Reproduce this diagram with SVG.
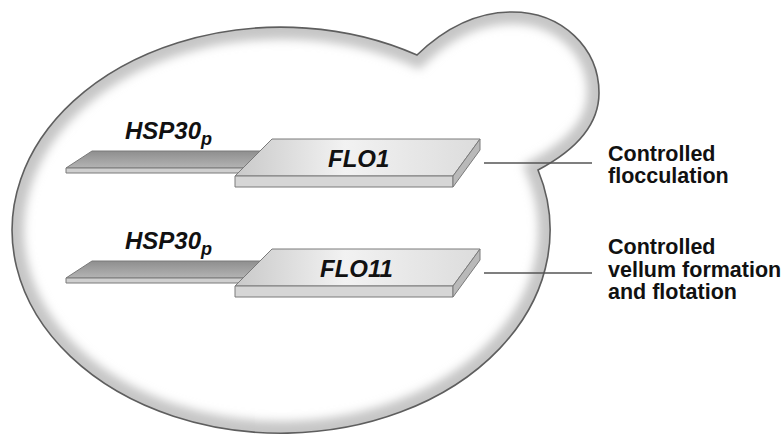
<svg xmlns="http://www.w3.org/2000/svg" width="783" height="436" viewBox="0 0 783 436">
  <style>
    .gene { font-family: "Liberation Sans", Arial, sans-serif; font-weight: bold; font-style: italic; font-size: 24px; fill: #111; }
    .sub { font-size: 18px; }
    .label { font-family: "Liberation Sans", Arial, sans-serif; font-weight: bold; font-size: 21.5px; fill: #111; }
    .edge { stroke: #7a7a7a; stroke-width: 1; stroke-linejoin: round; }
    .lead { stroke: #555; stroke-width: 1.5; fill: none; }
  </style>
  <defs>
    <!-- outline of the budding cell: bud on the upper right merged into the mother cell -->
    <path id="cellShape" d="M417,55 C445,28 478,12 512,12 C562,12 599,48 599,93 C599,128 572,152 538,170 A269,203 0 1 1 417,55 Z"/>
    <clipPath id="cellClip"><use href="#cellShape"/></clipPath>
    <filter id="soft" x="-10%" y="-10%" width="120%" height="120%">
      <feGaussianBlur stdDeviation="5"/>
    </filter>
    <linearGradient id="promTop" x1="0" y1="0" x2="0" y2="1">
      <stop offset="0" stop-color="#8e8e8e"/>
      <stop offset="1" stop-color="#b4b4b4"/>
    </linearGradient>
    <linearGradient id="boxTop" x1="0" y1="0" x2="1" y2="0">
      <stop offset="0" stop-color="#c9c9c9"/>
      <stop offset="0.45" stop-color="#f2f2f2"/>
      <stop offset="1" stop-color="#dcdcdc"/>
    </linearGradient>
  </defs>

  <rect width="783" height="436" fill="#ffffff"/>

  <!-- cell body with soft inner shading along its rim -->
  <g id="cell">
    <use href="#cellShape" fill="#ffffff"/>
    <g clip-path="url(#cellClip)">
      <use href="#cellShape" fill="none" stroke="#c6c6c6" stroke-width="24" filter="url(#soft)"/>
    </g>
    <use href="#cellShape" fill="none" stroke="#5e5e5e" stroke-width="1.6"/>
  </g>

  <!-- connectors from gene cassettes to phenotype labels -->
  <g id="connectors">
    <line class="lead" x1="484" y1="163" x2="592" y2="163"/>
    <line class="lead" x1="484" y1="273" x2="592" y2="273"/>
  </g>

  <!-- HSP30 promoter + FLO1 cassette -->
  <g id="cassette-flo1">
    <polygon class="edge" points="92,151 272,151 262,168 66,168" fill="url(#promTop)"/>
    <polygon class="edge" points="66,168 262,168 262,173 66,173" fill="#cfcfcf"/>
    <polygon class="edge" points="272,139 480,139 453,176 235,176" fill="url(#boxTop)"/>
    <polygon class="edge" points="235,176 453,176 453,187 235,187" fill="#d6d6d6"/>
    <polygon class="edge" points="453,176 480,139 480,150 453,187" fill="#b9b9b9"/>
    <text class="gene" x="125" y="139">HSP30<tspan class="sub" dy="6">p</tspan></text>
    <text class="gene" x="328" y="167">FLO1</text>
  </g>

  <!-- HSP30 promoter + FLO11 cassette -->
  <g id="cassette-flo11">
    <polygon class="edge" points="92,261 272,261 262,278 66,278" fill="url(#promTop)"/>
    <polygon class="edge" points="66,278 262,278 262,283 66,283" fill="#cfcfcf"/>
    <polygon class="edge" points="272,249 480,249 453,286 235,286" fill="url(#boxTop)"/>
    <polygon class="edge" points="235,286 453,286 453,297 235,297" fill="#d6d6d6"/>
    <polygon class="edge" points="453,286 480,249 480,260 453,297" fill="#b9b9b9"/>
    <text class="gene" x="125" y="249">HSP30<tspan class="sub" dy="6">p</tspan></text>
    <text class="gene" x="320" y="277">FLO11</text>
  </g>

  <g id="label-flocculation">
    <text class="label" x="608" y="161">Controlled</text>
    <text class="label" x="608" y="183">flocculation</text>
  </g>

  <g id="label-vellum">
    <text class="label" x="608" y="254">Controlled</text>
    <text class="label" x="608" y="277">vellum formation</text>
    <text class="label" x="608" y="299">and flotation</text>
  </g>
</svg>
